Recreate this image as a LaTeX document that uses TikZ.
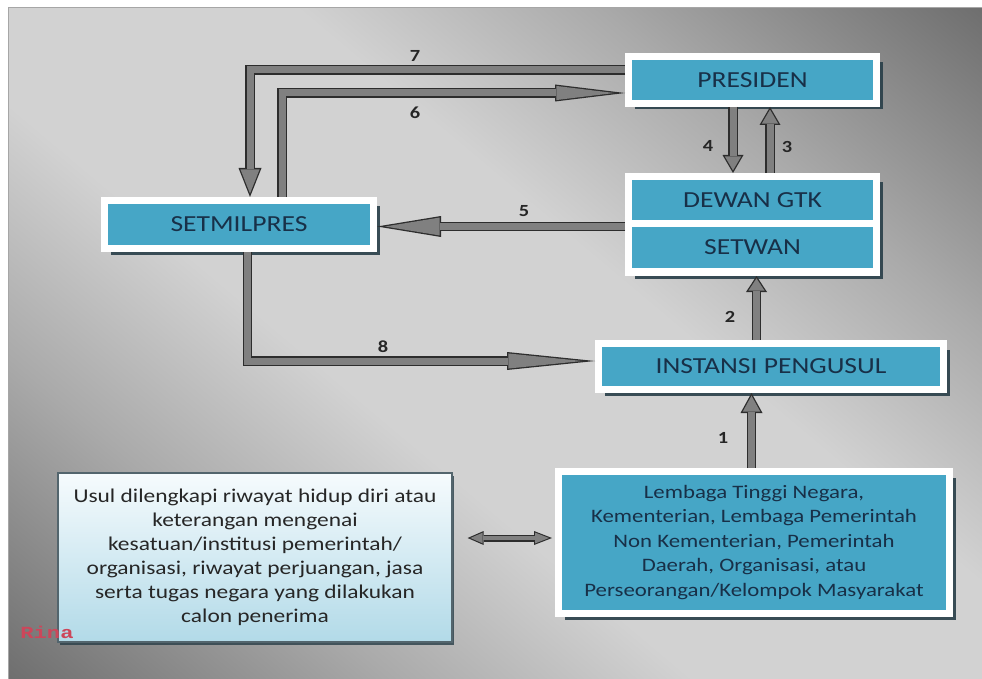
\documentclass[tikz,border=0pt]{standalone}
\usepackage{fontspec}
\setmainfont[FakeStretch=1.2]{Carlito}
\newfontfamily\rinafont[FakeStretch=1.3]{Liberation Mono}
\usetikzlibrary{arrows.meta,shadows}

\definecolor{boxteal}{RGB}{70,166,198}
\definecolor{boxtext}{RGB}{24,48,72}
\definecolor{arrowfill}{RGB}{128,128,128}
\definecolor{arrowline}{RGB}{45,45,45}
\definecolor{shadowc}{RGB}{40,62,72}
\definecolor{usultop}{RGB}{246,251,253}
\definecolor{usulbot}{RGB}{178,218,232}
\definecolor{bgdark}{RGB}{100,100,100}
\definecolor{bgmid}{RGB}{170,170,170}
\definecolor{bglight}{RGB}{210,210,210}
\definecolor{rinared}{RGB}{205,70,90}

\pgfdeclareverticalshading{bgshade}{100bp}{color(0bp)=(bgdark); color(12bp)=(bgdark);
	color(30bp)=(bgmid); color(42bp)=(bglight); color(58bp)=(bglight); color(70bp)=(bgmid);
	color(88bp)=(bgdark); color(100bp)=(bgdark)}

\tikzset{
	tealbox/.style={rectangle, fill=boxteal, draw=white, line width=7pt, inner sep=0pt,
		text=boxtext, font=\fontsize{23}{26}\selectfont,
		drop shadow={shadow xshift=6pt, shadow yshift=-6pt, fill=shadowc, opacity=.9}},
	whitebox/.style={tealbox, fill=white},
	tealpart/.style={rectangle, fill=boxteal, inner sep=0pt, minimum width=241pt,
		text=boxtext, font=\fontsize{23}{26}\selectfont},
	usulbox/.style={rectangle, draw=shadowc!80, line width=1.2pt, top color=usultop, bottom color=usulbot,
		inner sep=0pt, align=center, text=black!85, font=\fontsize{19.5}{24}\selectfont,
		drop shadow={shadow xshift=2pt, shadow yshift=-2.5pt, fill=shadowc, opacity=.8}},
	% outer head length/width, inner head length/width, pull-back of inner tip
	garrow/.style n args={5}{line width=9.5pt, draw=arrowline, -{Triangle[length=#1,width=#2,line width=0pt]},
		postaction={draw=arrowfill, line width=7pt, -{Triangle[length=#3,width=#4,line width=0pt]}, shorten >=#5}},
	numlbl/.style={font=\bfseries\fontsize{17}{17}\selectfont, text=black!85},
}

\begin{document}
\begin{tikzpicture}[x=1pt,y=-1pt]

	\useasboundingbox (0,0) rectangle (982,679);
	\shade[shading=bgshade, shading angle=-40] (8,8) rectangle (982,679);
	\draw[gray!70, line width=1pt] (8,679) -- (8,8) -- (982,8);

	% boxes
	\node[tealbox, minimum width=248pt, minimum height=47pt] (pres) at (752.5,80) {PRESIDEN};
	\node[whitebox, minimum width=248pt, minimum height=96pt] (gtk) at (752.5,224.5) {};
	\node[tealpart, minimum height=40pt] (dewan) at (752.5,200) {DEWAN GTK};
	\node[tealpart, minimum height=41pt] (setwan) at (752.5,247.5) {SETWAN};
	\node[tealbox, minimum width=269pt, minimum height=48pt] (setmil) at (239,224.5) {SETMILPRES};
	\node[tealbox, minimum width=345pt, minimum height=46pt] (inst) at (771,366.5) {INSTANSI PENGUSUL};
	\node[tealbox, minimum width=391pt, minimum height=142pt, align=center,
		font=\fontsize{19}{24.5}\selectfont] (lemb) at (754,542.5)
		{Lembaga Tinggi Negara,\\Kementerian, Lembaga Pemerintah\\Non Kementerian, Pemerintah\\Daerah, Organisasi, atau\\Perseorangan/Kelompok Masyarakat};
	\node[usulbox, minimum width=394pt, minimum height=169pt] (usul) at (255,557.5)
		{Usul dilengkapi riwayat hidup diri atau\\keterangan mengenai\\kesatuan/institusi pemerintah/\\organisasi, riwayat perjuangan, jasa\\serta tugas negara yang dilakukan\\calon penerima};

	% arrows
	\draw[garrow={29pt}{23pt}{24.2pt}{19.2pt}{3.5pt}] ([yshift=10pt]pres.west) -| ([xshift=11pt]setmil.north);
	\draw[garrow={70pt}{17pt}{57.9pt}{14.1pt}{10.8pt}] ([xshift=43pt]setmil.north) |- ([yshift=-13pt]pres.west);
	\draw[garrow={18pt}{21pt}{14.1pt}{16.5pt}{2.6pt}] ([xshift=-19.5pt]pres.south) -- ([xshift=-19.5pt]pres.south |- gtk.north);
	\draw[garrow={18pt}{21pt}{14.1pt}{16.5pt}{2.6pt}] ([xshift=17.5pt]gtk.north) -- ([xshift=17.5pt]gtk.north |- pres.south);
	\draw[garrow={64pt}{21pt}{54.7pt}{17.9pt}{8pt}] ([yshift=-2pt]gtk.west) -- ([yshift=-2pt]setmil.east);
	\draw[garrow={88pt}{18pt}{73.9pt}{15.1pt}{12.8pt}] ([xshift=8.5pt]setmil.south) |- ([yshift=5.5pt]inst.west);
	\draw[garrow={16pt}{21pt}{12.3pt}{16.1pt}{2.4pt}] ([xshift=-14.5pt]inst.north) -- ([xshift=-14.5pt]inst.north |- gtk.south);
	\draw[garrow={20pt}{22pt}{16pt}{17.6pt}{2.7pt}] ([xshift=-2.5pt]lemb.north) -- ([xshift=-2.5pt]lemb.north |- inst.south);
	\draw[line width=7pt, draw=arrowline,
		{Triangle[length=16pt,width=14pt,line width=0pt]}-{Triangle[length=18pt,width=14pt,line width=0pt]},
		shorten <=15pt, shorten >=3pt,
		postaction={draw=arrowfill, line width=4.8pt,
		{Triangle[length=12.2pt,width=10.6pt,line width=0pt]}-{Triangle[length=13.9pt,width=10.8pt,line width=0pt]},
		shorten <=17.8pt, shorten >=6pt}]
		([yshift=19.5pt]usul.east) -- ([yshift=4.5pt]lemb.west);

	% numbers
	\node[numlbl] (l7) at (415,56) {7};
	\node[numlbl] (l6) at (415,113) {6};
	\node[numlbl] (l5) at (524,211) {5};
	\node[numlbl] (l4) at (708,146) {4};
	\node[numlbl] (l3) at (787,147) {3};
	\node[numlbl] (l2) at (730,317) {2};
	\node[numlbl] (l8) at (383,347) {8};
	\node[numlbl] (l1) at (723,438) {1};

	\node[text=rinared, font=\rinafont\bfseries\fontsize{17}{17}\selectfont] (rina) at (47,632) {Rina};

\end{tikzpicture}
\end{document}
